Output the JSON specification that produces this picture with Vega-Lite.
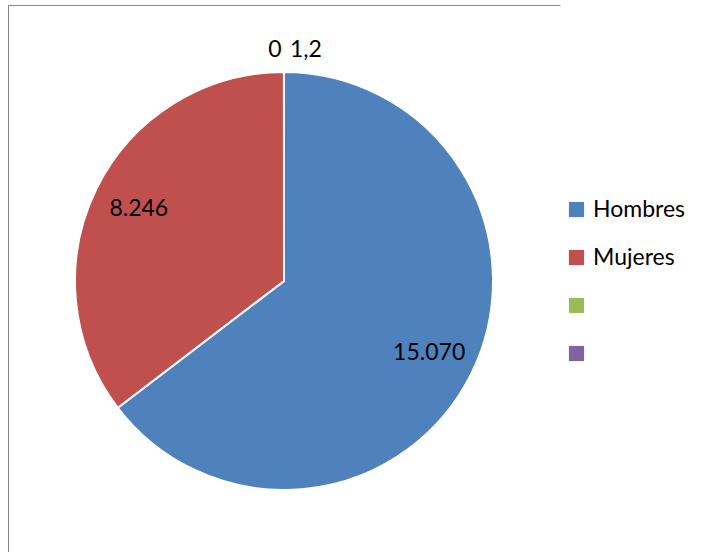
{
  "$schema": "https://vega.github.io/schema/vega-lite/v6.json",
  "width": 552,
  "height": 552,
  "autosize": {"type": "none"},
  "padding": {"left": 8, "top": 5, "right": 145, "bottom": 0},
  "background": "white",
  "config": {
    "font": "Lato"
  },
  "view": {"stroke": "#868686", "strokeWidth": 1, "strokeDash": [552, 552, 1104, 0]},
  "data": {
    "values": [
      {"cat": "Hombres", "value": 15070, "label": "15.070", "idx": 1},
      {"cat": "Mujeres", "value": 8246, "label": "8.246", "idx": 2},
      {"cat": "3", "value": 1.2, "label": "1,2", "idx": 3},
      {"cat": "4", "value": 0, "label": "0", "idx": 4}
    ]
  },
  "encoding": {
    "theta": {"field": "value", "type": "quantitative", "stack": true},
    "order": {"field": "idx", "type": "quantitative"}
  },
  "layer": [
    {
      "mark": {"type": "arc", "outerRadius": 209, "stroke": "white", "strokeWidth": 2},
      "encoding": {
        "color": {
          "field": "cat",
          "type": "nominal",
          "scale": {"domain": ["Hombres", "Mujeres", "3", "4"], "range": ["#4F81BD", "#C0504D", "#9BBB59", "#8064A2"]},
          "legend": {
            "title": null,
            "orient": "none",
            "legendX": 557,
            "legendY": 193,
            "padding": 0,
            "symbolType": "square",
            "symbolSize": 230,
            "symbolStrokeWidth": 0,
            "symbolOpacity": 1,
            "labelFontSize": 23,
            "labelFont": "Lato",
            "labelColor": "black",
            "labelOffset": 5,
            "rowPadding": 24,
            "labelExpr": "datum.label == '3' || datum.label == '4' ? '' : datum.label"
          }
        }
      }
    },
    {
      "mark": {"type": "text", "radius": 162, "fontSize": 23, "color": "black"},
      "encoding": {"text": {"condition": {"test": "datum.idx <= 2", "field": "label"}, "value": ""}}
    },
    {
      "mark": {"type": "text", "radius": 231, "dx": 22, "fontSize": 23, "color": "black"},
      "encoding": {"text": {"condition": {"test": "datum.idx == 3", "field": "label"}, "value": ""}}
    },
    {
      "mark": {"type": "text", "radius": 231, "dx": -9, "fontSize": 23, "color": "black"},
      "encoding": {"text": {"condition": {"test": "datum.idx == 4", "field": "label"}, "value": ""}}
    }
  ]
}
